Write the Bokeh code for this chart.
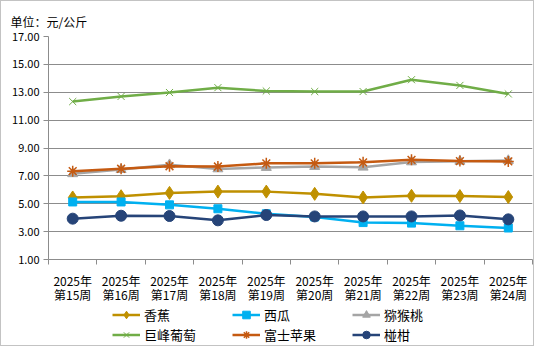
from bokeh.plotting import figure
from bokeh.layouts import column
from bokeh.models import (Range1d, FixedTicker, PrintfTickFormatter, Legend,
                          LegendItem, LinearAxis)
from bokeh.embed import file_html
from bokeh.resources import INLINE

weeks = ["2025年\n第15周", "2025年\n第16周", "2025年\n第17周", "2025年\n第18周",
         "2025年\n第19周", "2025年\n第20周", "2025年\n第21周", "2025年\n第22周",
         "2025年\n第23周", "2025年\n第24周"]

banana = [5.45, 5.54, 5.78, 5.87, 5.87, 5.71, 5.45, 5.57, 5.55, 5.48]
watermelon = [5.13, 5.13, 4.92, 4.64, 4.28, 4.05, 3.65, 3.61, 3.42, 3.26]
kiwi = [7.15, 7.45, 7.80, 7.50, 7.60, 7.67, 7.62, 8.00, 8.05, 8.10]
grape = [12.33, 12.70, 12.98, 13.33, 13.09, 13.05, 13.05, 13.90, 13.49, 12.88]
apple = [7.34, 7.51, 7.69, 7.67, 7.90, 7.90, 7.97, 8.15, 8.06, 8.04]
ponkan = [3.93, 4.14, 4.12, 3.81, 4.19, 4.09, 4.09, 4.09, 4.16, 3.88]

y_ticks = [1, 3, 5, 7, 9, 11, 13, 15, 17]

FONT = "Noto Sans CJK SC"
GRID = "#8c8c8c"

p = figure(width=532, height=304, output_backend="svg", toolbar_location=None,
           x_range=Range1d(0, len(weeks)), y_range=Range1d(1, 17),
           min_border_left=47, min_border_right=1, min_border_top=35,
           min_border_bottom=43, title="单位：元/公斤")
p.outline_line_color = None
p.background_fill_color = "white"
p.border_fill_color = "white"

p.title.text_font = FONT
p.title.text_font_size = "12px"
p.title.text_font_style = "normal"
p.title.text_color = "black"
p.title.align = "left"
p.title.offset = -38
p.title.standoff = 13

xs = [i + 0.5 for i in range(len(weeks))]
year_labels = {x: w.split("\n")[0] for x, w in zip(xs, weeks)}
week_labels = {x: w.split("\n")[1] for x, w in zip(xs, weeks)}

# x axis: first line (year) with boundary ticks
p.xaxis.ticker = FixedTicker(ticks=xs, minor_ticks=list(range(len(weeks) + 1)))
p.xaxis.major_label_overrides = year_labels
p.xaxis.major_tick_line_color = None
p.xaxis.major_tick_out = 0
p.xaxis.major_tick_in = 0
p.xaxis.minor_tick_out = 5
p.xaxis.minor_tick_in = 0
p.xaxis.minor_tick_line_color = GRID
p.xaxis.axis_line_color = GRID
p.xaxis.major_label_standoff = 7
p.xaxis.major_label_text_font = FONT
p.xaxis.major_label_text_font_size = "12px"
p.xaxis.major_label_text_color = "black"

# second line of the category labels (week)
ax2 = LinearAxis(ticker=FixedTicker(ticks=xs), major_label_overrides=week_labels,
                 axis_line_color=None, major_tick_line_color=None,
                 minor_tick_line_color=None, major_tick_out=0, major_tick_in=0,
                 major_label_standoff=-6, major_label_text_font=FONT,
                 major_label_text_font_size="12px",
                 major_label_text_color="black")
p.add_layout(ax2, "below")

p.yaxis.ticker = FixedTicker(ticks=y_ticks)
p.yaxis.formatter = PrintfTickFormatter(format="%.2f")
p.yaxis.major_tick_out = 5
p.yaxis.major_tick_in = 0
p.yaxis.minor_tick_line_color = None
p.yaxis.major_tick_line_color = GRID
p.yaxis.axis_line_color = GRID
p.yaxis.major_label_standoff = 4
p.yaxis.major_label_text_font = FONT
p.yaxis.major_label_text_font_size = "11px"
p.yaxis.major_label_text_color = "black"

p.xgrid.grid_line_color = None
p.ygrid.grid_line_color = GRID
p.ygrid.ticker = FixedTicker(ticks=y_ticks)

series = [
    ("香蕉", banana, "#BF9000", "diamond", 13, 1),
    ("西瓜", watermelon, "#00B0F0", "square", 8, 1),
    ("猕猴桃", kiwi, "#A5A5A5", "triangle", 10, 1),
    ("巨峰葡萄", grape, "#70AD47", "x", 10, 1),
    ("富士苹果", apple, "#C55A11", "asterisk", 11, 1.5),
    ("椪柑", ponkan, "#264478", "circle", 11, 1),
]

# legend strip below the chart; it draws the same series in a view range
# that shows none of their points, so only the legend keys are visible
lg = figure(width=532, height=40, output_backend="svg", toolbar_location=None,
            x_range=Range1d(0, len(weeks)), y_range=Range1d(-3, -2),
            min_border_left=47, min_border_right=1, min_border_top=0,
            min_border_bottom=0)
lg.axis.visible = False
lg.grid.visible = False
lg.outline_line_color = None
lg.background_fill_color = "white"
lg.border_fill_color = "white"

items = []
for name, vals, color, marker, size, mlw in series:
    p.line(xs, vals, line_color=color, line_width=2.5)
    if marker in ("x", "asterisk"):
        p.scatter(xs, vals, marker=marker, size=size, line_color=color,
                  line_width=mlw, fill_color=None)
        ks = lg.scatter(xs, vals, marker=marker, size=size - 1,
                        line_color=color, line_width=mlw, fill_color=None)
    else:
        p.scatter(xs, vals, marker=marker, size=size, line_color=color,
                  fill_color=color)
        ks = lg.scatter(xs, vals, marker=marker, size=size - 1,
                        line_color=color, fill_color=color)
    kl = lg.line(xs, vals, line_color=color, line_width=2.5)
    items.append(LegendItem(label=name, renderers=[kl, ks]))

legend = Legend(items=items, location=(64, 1), orientation="horizontal",
                ncols=3, glyph_width=28, glyph_height=19, label_width=87,
                label_height=19, spacing=1, padding=0, margin=0,
                label_standoff=4, border_line_color=None,
                background_fill_alpha=0, label_text_font=FONT,
                label_text_font_size="13px", label_text_color="black")
lg.add_layout(legend, "center")

layout = column(p, lg, spacing=0)
layout.styles = {"border": "1px solid #c3c3c3"}

open("out.html", "w").write(file_html(layout, INLINE))
